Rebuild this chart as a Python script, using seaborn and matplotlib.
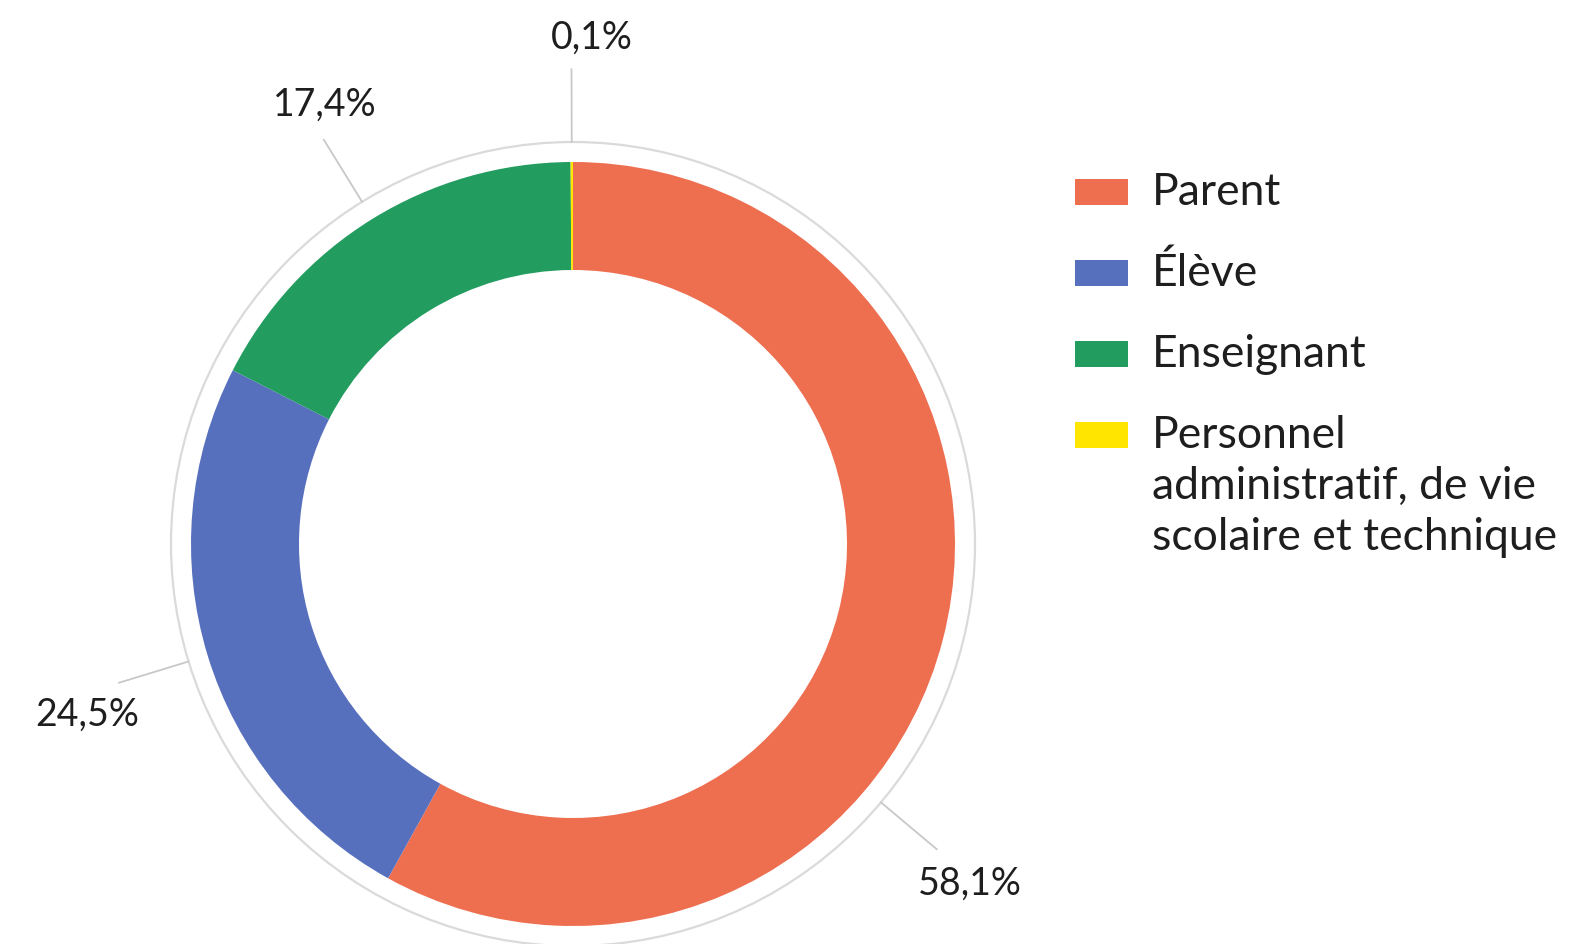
import numpy as np
import matplotlib.pyplot as plt
import matplotlib.patches as mpatches
import seaborn as sns

# data
categories = ['Parent', 'Élève', 'Enseignant',
              'Personnel\nadministratif, de vie\nscolaire et technique']
shares = [58.1, 24.5, 17.4, 0.1]
share_labels = ['58,1%', '24,5%', '17,4%', '0,1%']
colors = ['#EE6E50', '#5770BE', '#229C5F', '#FFE500']

sns.set_theme(style='white')
plt.rcParams['font.family'] = ['Lato', 'DejaVu Sans']

W, H = 1583, 945
fig = plt.figure(figsize=(W / 100, H / 100), dpi=100)
ax = fig.add_axes([0, 0, 1, 1])

# layout in pixels (y measured upward)
cx, cy = 573, 400
r_out, r_in, r_ring, r_line = 382, 274, 402, 475

wedges, _ = ax.pie(shares, colors=colors, startangle=90, counterclock=False,
                   center=(cx, cy), radius=r_out, frame=True,
                   wedgeprops=dict(width=r_out - r_in, edgecolor='none'))
ax.add_patch(mpatches.Circle((cx, cy), r_ring, fill=False, ec='#DADADA', lw=1.6))

# connector angles: slice middle, except the big slice whose label sits lower
fracs = np.array(shares) / sum(shares)
starts = np.concatenate([[0], np.cumsum(fracs)[:-1]]) * 360
angles = 90 - (starts + fracs * 180)
angles[0] = -40
text_offsets = [(33, -33), (-32, -31), (1, 36), (20, 32)]

for lab, ang, (ox, oy) in zip(share_labels, angles, text_offsets):
    a = np.deg2rad(ang)
    x0, y0 = cx + r_ring * np.cos(a), cy + r_ring * np.sin(a)
    x1, y1 = cx + r_line * np.cos(a), cy + r_line * np.sin(a)
    ax.plot([x0, x1], [y0, y1], color='#C8C8C8', lw=1.3)
    ax.text(x1 + ox, y1 + oy, lab, ha='center', va='center', fontsize=27,
            color='#1E1E1E')

# legend drawn by hand so the swatch lines up with the first text line
leg_x, leg_top, leg_step, line_step = 1075, H - 193, 81, 51
for i, (cat, col) in enumerate(zip(categories, colors)):
    yc = leg_top - i * leg_step
    ax.add_patch(mpatches.Rectangle((leg_x, yc - 13), 53, 26, color=col, lw=0))
    for k, line in enumerate(cat.split('\n')):
        ax.text(1152, yc - 12 - k * line_step, line, ha='left', va='baseline',
                fontsize=32, color='#1E1E1E')

ax.set_xlim(0, W)
ax.set_ylim(0, H)
ax.set_aspect('equal')
ax.axis('off')

fig.savefig('out.png', dpi=100)
